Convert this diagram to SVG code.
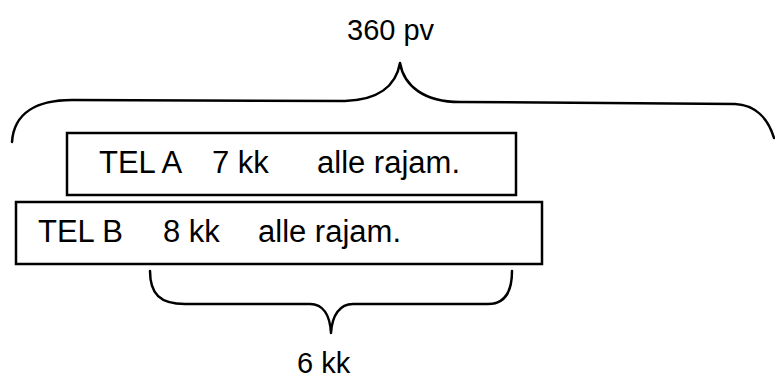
<svg xmlns="http://www.w3.org/2000/svg" width="775" height="383" viewBox="0 0 775 383">
<style>
.box{fill:#fff;stroke:#000;stroke-width:2.5}
.br{fill:none;stroke:#000;stroke-width:2.5;stroke-linecap:round;stroke-linejoin:round}
.t{font-family:"Liberation Sans",Arial,sans-serif;font-size:31px;fill:#000}
.l{font-family:"Liberation Sans",Arial,sans-serif;font-size:29px;fill:#000}
</style>
<rect width="775" height="383" fill="#fff"/>
<g id="connectors">
<path class="br" d="M12,142 C14,112 38,100 72,100 L345,101 C378,100 396,86 400,63 C404,86 424,102 460,102 L735,104 C755,105 768,118 774,138"/>
<path class="br" d="M150,271 C150,294 160,304 185,304 L310,304 C323,304 330,315 331,333 C332,315 340,304 353,304 L488,304 C503,304 512,294 512,271"/>
</g>
<g id="label-top"><text class="l" x="347" y="40">360 pv</text></g>
<g id="telA">
<rect class="box" x="67" y="133" width="449" height="62"/>
<text class="t" y="173"><tspan x="99">TEL A</tspan><tspan x="212">7 kk</tspan><tspan x="317">alle rajam.</tspan></text>
</g>
<g id="telB">
<rect class="box" x="16" y="202" width="526" height="62"/>
<text class="t" y="242"><tspan x="38">TEL B</tspan><tspan x="163">8 kk</tspan><tspan x="258">alle rajam.</tspan></text>
</g>
<g id="label-bottom"><text class="l" x="297" y="373">6 kk</text></g>
</svg>
